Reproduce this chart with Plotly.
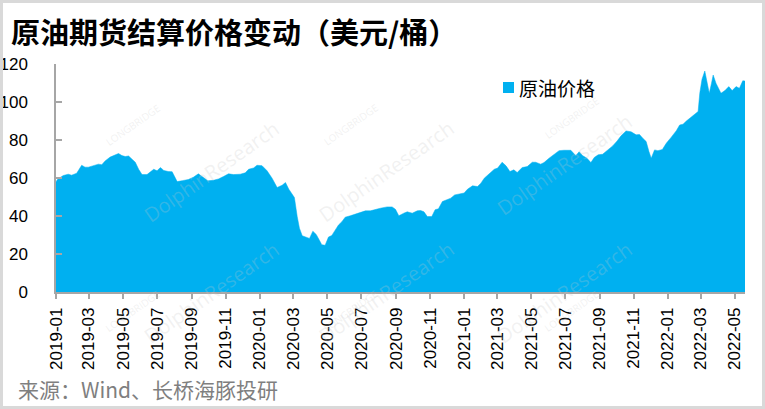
import plotly.graph_objects as go

# ---------------- data ----------------
dates = [
    "2019-01-01", "2019-01-04", "2019-01-14", "2019-01-23", "2019-01-29", "2019-02-07", "2019-02-16",
    "2019-02-22", "2019-02-28", "2019-03-09", "2019-03-18", "2019-03-24", "2019-03-30", "2019-04-08",
    "2019-04-17", "2019-04-23", "2019-04-29", "2019-05-05", "2019-05-11", "2019-05-17", "2019-05-23",
    "2019-05-29", "2019-06-04", "2019-06-13", "2019-06-19", "2019-06-25", "2019-07-01", "2019-07-07",
    "2019-07-13", "2019-07-21", "2019-07-28", "2019-08-06", "2019-08-15", "2019-08-26", "2019-09-04",
    "2019-09-13", "2019-09-19", "2019-09-30", "2019-10-10", "2019-10-19", "2019-10-28", "2019-11-06",
    "2019-11-15", "2019-11-27", "2019-12-06", "2019-12-12", "2019-12-21", "2019-12-27", "2020-01-05",
    "2020-01-14", "2020-01-23", "2020-02-01", "2020-02-10", "2020-02-16", "2020-02-22", "2020-02-28",
    "2020-03-03", "2020-03-08", "2020-03-12", "2020-03-17", "2020-03-24", "2020-03-30", "2020-04-05",
    "2020-04-11", "2020-04-17", "2020-04-21", "2020-04-27", "2020-05-03", "2020-05-09", "2020-05-15",
    "2020-05-21", "2020-05-27", "2020-06-02", "2020-06-11", "2020-06-20", "2020-06-29", "2020-07-08",
    "2020-07-17", "2020-07-26", "2020-08-04", "2020-08-16", "2020-08-25", "2020-08-31", "2020-09-06",
    "2020-09-15", "2020-09-21", "2020-09-30", "2020-10-09", "2020-10-15", "2020-10-21", "2020-10-27",
    "2020-11-04", "2020-11-10", "2020-11-16", "2020-11-23", "2020-12-02", "2020-12-08", "2020-12-15",
    "2020-12-26", "2021-01-01", "2021-01-07", "2021-01-16", "2021-01-25", "2021-01-31", "2021-02-06",
    "2021-02-15", "2021-02-24", "2021-03-02", "2021-03-10", "2021-03-17", "2021-03-24", "2021-03-31",
    "2021-04-06", "2021-04-15", "2021-04-24", "2021-05-03", "2021-05-09", "2021-05-18", "2021-05-24",
    "2021-06-02", "2021-06-11", "2021-06-20", "2021-06-29", "2021-07-11", "2021-07-16", "2021-07-20",
    "2021-07-26", "2021-08-01", "2021-08-09", "2021-08-16", "2021-08-22", "2021-08-29", "2021-09-06",
    "2021-09-15", "2021-09-24", "2021-10-02", "2021-10-09", "2021-10-18", "2021-10-27", "2021-11-05",
    "2021-11-11", "2021-11-17", "2021-11-23", "2021-11-28", "2021-12-02", "2021-12-08", "2021-12-14",
    "2021-12-22", "2021-12-29", "2022-01-07", "2022-01-16", "2022-01-22", "2022-01-28", "2022-02-03",
    "2022-02-12", "2022-02-20", "2022-02-24", "2022-02-27", "2022-03-03", "2022-03-08", "2022-03-12",
    "2022-03-16", "2022-03-20", "2022-03-23", "2022-03-28", "2022-04-06", "2022-04-13", "2022-04-20",
    "2022-04-26", "2022-05-03", "2022-05-09", "2022-05-15", "2022-05-19",
]
oil_price = [
    58.0, 59.4, 61.3, 62.0, 61.5, 62.5, 66.7,
    65.7, 65.7, 66.7, 67.3, 67.0, 69.0, 71.0,
    72.0, 72.9, 71.8, 71.3, 71.6, 70.2, 68.3,
    64.6, 61.8, 61.8, 63.2, 64.6, 63.8, 65.5,
    64.0, 63.4, 63.3, 58.1, 58.6, 59.2, 60.4,
    62.2, 60.9, 58.5, 58.8, 59.5, 60.8, 62.2,
    61.8, 62.0, 62.7, 64.6, 65.3, 66.7, 66.5,
    63.8, 59.9, 55.0, 56.2, 57.6, 54.1, 51.1,
    49.7, 39.7, 33.6, 29.6, 28.9, 28.2, 32.0,
    30.3, 27.1, 24.9, 24.6, 28.9, 29.8, 32.7,
    35.3, 37.0, 39.4, 40.1, 41.0, 42.2, 42.7,
    42.7, 43.2, 44.1, 44.8, 44.8, 43.5, 40.1,
    41.5, 42.2, 41.5, 42.7, 42.9, 42.2, 39.7,
    39.7, 43.3, 43.8, 47.6, 48.5, 49.4, 51.1,
    51.5, 52.1, 54.1, 55.9, 55.5, 57.3, 59.9,
    62.5, 64.6, 65.2, 68.3, 66.4, 63.4, 64.3,
    62.9, 65.5, 66.0, 68.3, 68.3, 67.3, 68.1,
    70.4, 72.5, 74.4, 74.6, 74.6, 73.0, 71.8,
    73.8, 71.8, 70.4, 68.1, 70.8, 72.2, 72.5,
    74.6, 76.9, 79.5, 82.2, 84.8, 84.3, 82.7,
    82.9, 80.9, 79.2, 73.9, 70.4, 74.8, 74.4,
    75.0, 78.3, 81.5, 84.9, 87.9, 88.3, 90.0,
    92.3, 94.1, 95.0, 104.6, 112.0, 116.3, 110.7,
    104.6, 109.9, 114.2, 109.9, 104.6, 106.0, 108.1,
    106.0, 108.1, 107.2, 111.2, 111.0,
]
series_name = "原油价格"
title_text = "原油期货结算价格变动（美元/桶）"
source_text = "来源：Wind、长桥海豚投研"
y_ticks = [0, 20, 40, 60, 80, 100, 120]

# ---------------- layout helpers ----------------
W, H = 765, 409
ML, MR, MT, MB = 56, 20, 64, 117
PW, PH = W - ML - MR, H - MT - MB


def px(x):
    return (x - ML) / PW


def py(y):
    return (H - MB - y) / PH


BLUE = "#00B0F0"
CJK = "Noto Sans CJK SC"

fig = go.Figure()
fig.add_trace(go.Scatter(
    x=dates, y=oil_price, mode="lines", fill="tozeroy", name=series_name,
    line=dict(width=0.5, color=BLUE), fillcolor=BLUE,
    showlegend=False, hoverinfo="x+y",
))

annotations = []
# faint watermarks
wm_color = "rgba(200,200,200,0.25)"
for cx, cy in [(136, 112), (386, 112), (640, 105), (136, 352), (386, 352), (640, 352)]:
    annotations.append(dict(
        x=px(cx), y=py(cy), xref="paper", yref="paper", text="DolphinResearch",
        showarrow=False, textangle=-35, font=dict(family="Open Sans", size=20, color=wm_color),
    ))
    annotations.append(dict(
        x=px(cx - 36), y=py(cy - 14), xref="paper", yref="paper", text="LONGBRIDGE",
        showarrow=False, textangle=-35, font=dict(family="Open Sans", size=10, color=wm_color),
    ))

annotations.append(dict(
    x=px(9), y=py(31), xref="paper", yref="paper", xanchor="left", yanchor="middle",
    text="<b>" + title_text + "</b>", showarrow=False,
    font=dict(family=CJK, size=29, color="#000000"),
))
annotations.append(dict(
    x=px(16), y=py(389), xref="paper", yref="paper", xanchor="left", yanchor="middle",
    text=source_text, showarrow=False,
    font=dict(family=CJK, size=21, color="#7f7f7f"),
))
# legend label
annotations.append(dict(
    x=px(517), y=py(87), xref="paper", yref="paper", xanchor="left", yanchor="middle",
    text=series_name, showarrow=False,
    font=dict(family=CJK, size=19, color="#000000"),
))

shapes = [
    dict(
        type="rect", xref="paper", yref="paper",
        x0=px(1.5), x1=px(W - 1.5), y0=py(H - 1.5), y1=py(1.5),
        line=dict(color="#d9d9d9", width=3), fillcolor="rgba(0,0,0,0)", layer="above",
    ),
    # legend swatch
    dict(
        type="rect", xref="paper", yref="paper",
        x0=px(503), x1=px(514), y0=py(93), y1=py(82),
        line=dict(width=0), fillcolor=BLUE,
    ),
]

fig.update_layout(
    width=W, height=H,
    margin=dict(l=ML, r=MR, t=MT, b=MB, pad=0, autoexpand=False),
    paper_bgcolor="white", plot_bgcolor="white",
    showlegend=False,
    xaxis=dict(
        type="date", range=["2019-01-01", "2022-05-19"], automargin=False,
        tick0="2019-01-01", dtick="M2", tickformat="%Y-%m", tickangle=-90,
        showgrid=False, zeroline=False,
        showline=True, linecolor="#a6a6a6", linewidth=1.5,
        ticks="outside", ticklen=5, tickcolor="#a6a6a6", tickwidth=1.5,
        tickfont=dict(family="Liberation Sans, Arial", size=17, color="#000000"),
        ticklabelstandoff=2,
    ),
    yaxis=dict(
        range=[0, 120], tickvals=y_ticks, automargin=False,
        showgrid=False, zeroline=False,
        showline=True, linecolor="#a6a6a6", linewidth=1.5,
        ticks="inside", ticklen=6, tickcolor="#a6a6a6", tickwidth=1.5,
        tickfont=dict(family="Liberation Sans, Arial", size=17, color="#000000"),
        ticklabelstandoff=23,
    ),
    annotations=annotations,
    shapes=shapes,
)

fig.write_html(
    "out.html",
    config={"displayModeBar": False},
    post_script="document.body.style.margin='0';document.body.style.padding='0';",
)
